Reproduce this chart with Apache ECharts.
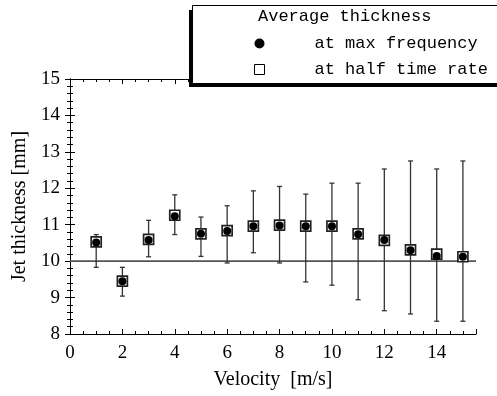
<!DOCTYPE html>
<html><head><meta charset="utf-8">
<script src="https://cdn.jsdelivr.net/npm/echarts@6/dist/echarts.min.js"></script>
<style>html,body{margin:0;padding:0;background:#fff}#c{width:497px;height:396px}</style>
</head><body><div id="c"></div>
<script>
const velocity = [1,2,3,4,5,6,7,8,9,10,11,12,13,14,15];
const maxFreq  = [10.51,9.45,10.58,11.23,10.75,10.83,10.96,10.98,10.96,10.96,10.74,10.58,10.30,10.14,10.12];
const halfRate = [10.53,9.45,10.60,11.26,10.75,10.84,10.96,10.99,10.96,10.96,10.75,10.57,10.31,10.19,10.12];
const errLow   = [9.83,9.04,10.12,10.73,10.13,9.95,10.23,9.95,9.43,9.34,8.94,8.64,8.55,8.35,8.35];
const errHigh  = [10.73,9.83,11.12,11.82,11.21,11.52,11.93,12.05,11.84,12.14,12.14,12.53,12.75,12.53,12.75];
const refLevel = 10;
const xTicks = [0,2,4,6,8,10,12,14];
const yTicks = [8,9,10,11,12,13,14,15];
const legendTitle = 'Average thickness';
const seriesNames = ['at max frequency','at half time rate'];

const serif = 'Liberation Serif';
const mono = 'Liberation Mono';
const chart = echarts.init(document.getElementById('c'));

const axCommon = {
  axisLine:{show:true,lineStyle:{color:'#000',width:1}},
  axisTick:{show:true,inside:true,length:5,lineStyle:{color:'#000'}},
  splitLine:{show:false}
};

chart.setOption({
  animation:false,
  backgroundColor:'#fff',
  grid:{left:70,right:21,top:79,bottom:62},
  xAxis:[
    Object.assign({type:'value',min:0,max:15.5,interval:2,position:'bottom',
      minorTick:{show:true,splitNumber:4,length:3,lineStyle:{color:'#000'}},
      name:'Velocity  [m/s]',nameLocation:'middle',nameGap:36,
      nameTextStyle:{fontFamily:serif,fontSize:20,color:'#000'},
      axisLabel:{fontFamily:serif,fontSize:19,color:'#000',margin:10,
        formatter:v=>xTicks.indexOf(v)>=0?String(v):''}
    }, axCommon),
    Object.assign({type:'value',min:0,max:15.5,interval:2,position:'top',
      minorTick:{show:true,splitNumber:4,length:3,lineStyle:{color:'#000'}},
      axisLabel:{show:false}
    }, axCommon)
  ],
  yAxis:[
    Object.assign({type:'value',min:8,max:15,interval:1,position:'left',
      minorTick:{show:true,splitNumber:5,length:3,lineStyle:{color:'#000'}},
      name:'Jet thickness [mm]',nameLocation:'middle',nameGap:29,
      nameTextStyle:{fontFamily:serif,fontSize:20,color:'#000'},
      axisLabel:{fontFamily:serif,fontSize:19,color:'#000',margin:10,
        formatter:v=>yTicks.indexOf(v)>=0?String(v):''}
    }, axCommon),
    Object.assign({type:'value',min:8,max:15,interval:1,position:'right',
      minorTick:{show:true,splitNumber:5,length:3,lineStyle:{color:'#000'}},
      axisLabel:{show:false}
    }, axCommon)
  ],
  legend:{
    show:true,orient:'vertical',left:249,top:30,itemGap:9,itemWidth:10,itemHeight:10,
    z:30,
    data:[
      {name:seriesNames[0],icon:'circle',itemStyle:{color:'#000',borderWidth:0}},
      {name:seriesNames[1],icon:'rect',itemStyle:{color:'#fff',borderColor:'#000',borderWidth:1}}
    ],
    textStyle:{fontFamily:mono,fontSize:17,color:'#000',padding:[0,0,0,45]}
  },
  graphic:[
    {type:'rect',z:20,shape:{x:189,y:10,width:320,height:77},style:{fill:'#000'}},
    {type:'rect',z:21,shape:{x:192.5,y:5.5,width:320,height:78},style:{fill:'#fff',stroke:'#000',lineWidth:1}},
    {type:'text',z:22,left:258,top:8,style:{text:legendTitle,font:'17px "Liberation Mono"',fill:'#000'}}
  ],
  series:[
    {
      type:'custom',name:'err',silent:true,z:2,
      renderItem:function(params,api){
        const x=api.value(0),lo=api.value(1),hi=api.value(2);
        const p1=api.coord([x,lo]),p2=api.coord([x,hi]);
        const c=2.5;
        const st={stroke:'#333',lineWidth:1.3};
        return {type:'group',children:[
          {type:'line',shape:{x1:p1[0],y1:p1[1],x2:p2[0],y2:p2[1]},style:st},
          {type:'line',shape:{x1:p1[0]-c,y1:p1[1],x2:p1[0]+c,y2:p1[1]},style:st},
          {type:'line',shape:{x1:p2[0]-c,y1:p2[1],x2:p2[0]+c,y2:p2[1]},style:st}
        ]};
      },
      data:velocity.map((v,i)=>[v,errLow[i],errHigh[i]])
    },
    {
      type:'line',name:'ref',silent:true,z:1,symbol:'none',
      lineStyle:{color:'#555',width:1.8},
      data:[[0,refLevel],[15.5,refLevel]]
    },
    {
      type:'scatter',name:seriesNames[1],z:3,symbol:'rect',symbolSize:10,
      itemStyle:{color:'#fff',borderColor:'#222',borderWidth:1.7,opacity:1},
      data:velocity.map((v,i)=>[v,halfRate[i]])
    },
    {
      type:'scatter',name:seriesNames[0],z:4,symbol:'circle',symbolSize:8,
      itemStyle:{color:'#000',opacity:1},
      data:velocity.map((v,i)=>[v,maxFreq[i]])
    }
  ]
});
</script></body></html>
